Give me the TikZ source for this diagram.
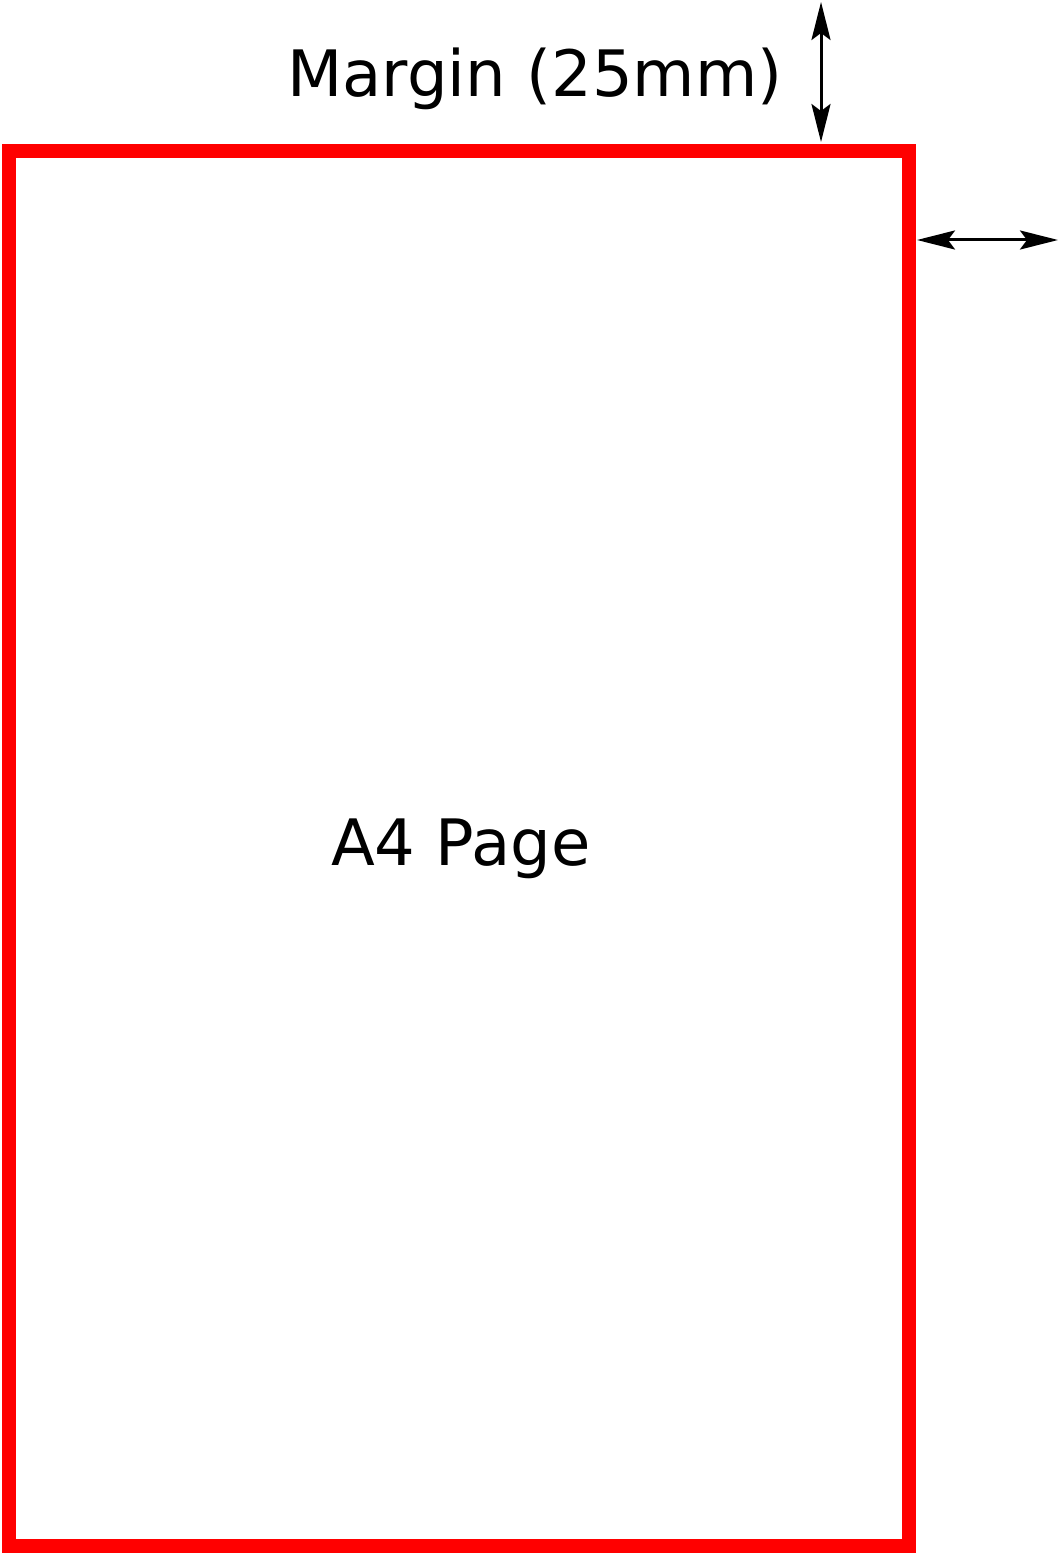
\documentclass[tikz,border=0pt]{standalone}
\usepackage{fontspec}
\setmainfont{DejaVu Sans}
\usetikzlibrary{arrows.meta}
\tikzset{
  pageframe/.style={draw=red, line width=7pt, minimum width=449.6pt, minimum height=697.35pt, inner sep=0pt},
  bigtext/.style={font=\fontsize{32}{38}\selectfont, inner sep=0pt},
  dimarrow/.style={line width=1.5pt, {Stealth[length=19pt,width=9.5pt,inset=3.5pt]}-{Stealth[length=19pt,width=9.5pt,inset=3.5pt]}}
}
\begin{document}
\begin{tikzpicture}[x=0.5pt,y=-0.5pt]
\useasboundingbox (0,0) rectangle (1059,1556);
\node[pageframe] (page) at (458.9,848.65) {};
\node[bigtext, anchor=base] (pagelabel) at (461,865.7) {A4 Page};
\node[bigtext, anchor=base] (marginlabel) at (535,96.7) {Margin (25mm)};
\coordinate (topA) at (821,2);
\coordinate (topB) at (821,142);
\coordinate (rightA) at (917,240);
\coordinate (rightB) at (1058,240);
\draw[dimarrow] (topA) -- (topB);
\draw[dimarrow] (rightA) -- (rightB);
\end{tikzpicture}
\end{document}
